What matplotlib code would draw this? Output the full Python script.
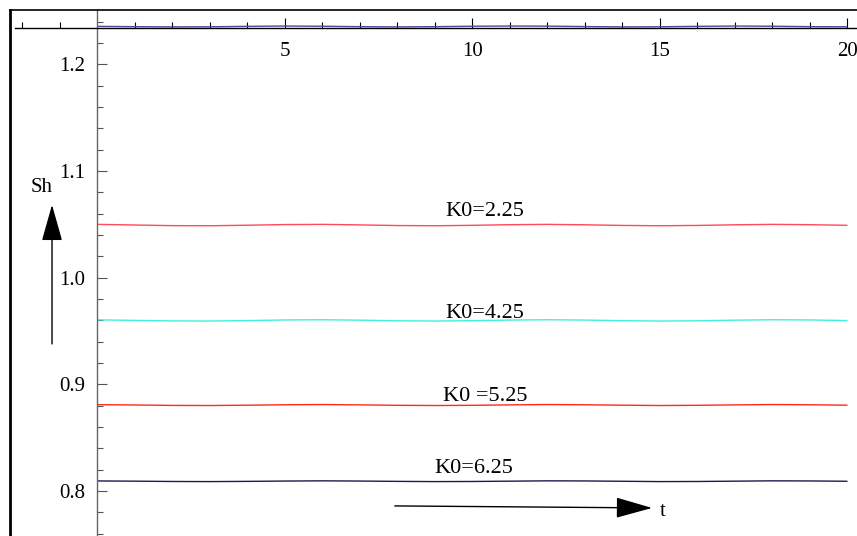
import matplotlib
matplotlib.use("Agg")
import matplotlib.pyplot as plt
from matplotlib.lines import Line2D
import numpy as np

# ---- data ----
t = [0, 1, 2, 3, 4, 5, 6, 7, 8, 9, 10, 11, 12, 13, 14, 15, 16, 17, 18, 19, 20]
sh_top = [1.2356, 1.2353, 1.2351, 1.2352, 1.2356, 1.2359, 1.2357, 1.2353, 1.2351, 1.2353,
          1.2357, 1.2359, 1.2358, 1.2354, 1.2351, 1.2352, 1.2356, 1.2359, 1.2357, 1.2353, 1.2352]
sh_225 = [1.0500, 1.0494, 1.0488, 1.0487, 1.0492, 1.0498, 1.0500, 1.0495, 1.0489, 1.0487,
          1.0491, 1.0497, 1.0500, 1.0496, 1.0490, 1.0487, 1.0490, 1.0496, 1.0500, 1.0497, 1.0491]
sh_425 = [0.9605, 0.9600, 0.9595, 0.9594, 0.9598, 0.9604, 0.9606, 0.9602, 0.9596, 0.9594,
          0.9597, 0.9603, 0.9606, 0.9603, 0.9597, 0.9594, 0.9596, 0.9602, 0.9606, 0.9604, 0.9598]
sh_525 = [0.8810, 0.8807, 0.8803, 0.8802, 0.8805, 0.8809, 0.8811, 0.8808, 0.8804, 0.8802,
          0.8804, 0.8808, 0.8811, 0.8809, 0.8805, 0.8802, 0.8804, 0.8808, 0.8811, 0.8809, 0.8805]
sh_625 = [0.8095, 0.8093, 0.8090, 0.8089, 0.8091, 0.8094, 0.8096, 0.8094, 0.8091, 0.8089,
          0.8090, 0.8093, 0.8096, 0.8095, 0.8092, 0.8089, 0.8090, 0.8093, 0.8096, 0.8095, 0.8092]

series = [sh_top, sh_225, sh_425, sh_525, sh_625]
colors = ["#4a4a9a", "#ff4a5c", "#3ff0dc", "#ff2a1a", "#1c1a4a"]

labels = ["K0=2.25", "K0=4.25", "K0 =5.25", "K0=6.25"]
label_pos = [(10.33, 1.0616), (10.33, 0.9660), (10.33, 0.8891), (10.04, 0.8216)]

x_major = [5, 10, 15, 20]
x_minor = [-2, -1, 1, 2, 3, 4, 6, 7, 8, 9, 11, 12, 13, 14, 16, 17, 18, 19]
y_major = [0.8, 0.9, 1.0, 1.1, 1.2]
y_minor = [0.76, 0.78, 0.82, 0.84, 0.86, 0.88, 0.92, 0.94, 0.96, 0.98,
           1.02, 1.04, 1.06, 1.08, 1.12, 1.14, 1.16, 1.18, 1.22, 1.24]

plt.rcParams['font.family'] = ['Liberation Serif', 'DejaVu Serif']

fig = plt.figure(figsize=(8.57, 5.36), dpi=100)
ax = fig.add_axes([0, 0, 1, 1])
ax.set_xlim(-2.597, 20.254)
ax.set_ylim(0.7579, 1.2603)
ax.patch.set_alpha(0)

for y, c in zip(series, colors):
    ax.plot(t, y, color=c, lw=1.0, solid_capstyle='butt')

for lab, (px, py) in zip(labels, label_pos):
    ax.text(px, py, lab, ha='center', va='center', fontsize=16)

# axes as spines crossing
ax.spines['right'].set_visible(False)
ax.spines['top'].set_visible(False)
ax.spines['left'].set_position(('data', 0))
ax.spines['bottom'].set_position(('data', 1.234))
ax.spines['left'].set_color('#666666')
ax.spines['left'].set_linewidth(1.0)
ax.spines['bottom'].set_color('black')
ax.spines['bottom'].set_linewidth(1.0)
ax.spines['bottom'].set_bounds(-2.2, 20.254)
ax.spines['left'].set_bounds(0.7579, 1.2510)
ax.spines['bottom'].set_zorder(3)

ax.set_xticks(x_major)
ax.set_xticklabels([str(v) for v in x_major])
ax.set_xticks(x_minor, minor=True)
ax.set_yticks(y_major)
ax.set_yticklabels(["%.1f" % v for v in y_major])
ax.set_yticks(y_minor, minor=True)
ax.tick_params(axis='x', which='major', direction='in', length=7, width=0.8,
               color='black', labelsize=15, pad=10)
ax.tick_params(axis='x', which='minor', direction='in', length=4, width=0.8, color='black')
ax.tick_params(axis='y', which='major', direction='in', length=7, width=0.8,
               color='#555555', labelsize=15, pad=9)
ax.tick_params(axis='y', which='minor', direction='in', length=4, width=0.8, color='#555555')

# annotation arrows
astyle = "-|>,head_length=2.3,head_width=0.65"
ax.annotate("", xy=(-1.21, 1.0683), xytext=(-1.21, 0.9379),
            arrowprops=dict(arrowstyle=astyle, color='black', lw=1.0, shrinkA=0, shrinkB=0))
ax.text(-1.477, 1.085, "Sh", ha='center', va='center', fontsize=15)
ax.annotate("", xy=(14.79, 0.7842), xytext=(7.93, 0.7861),
            arrowprops=dict(arrowstyle=astyle, color='black', lw=1.0, shrinkA=0, shrinkB=0))
ax.text(15.08, 0.7804, "t", ha='center', va='center', fontsize=15)

# outer frame
W, H = 857.0, 536.0
fig.add_artist(Line2D([10 / W, 10 / W], [0, 1 - 10 / H], color='black', lw=2.0,
                      transform=fig.transFigure))
fig.add_artist(Line2D([10 / W, 1], [1 - 10 / H, 1 - 10 / H], color='black', lw=1.2,
                      transform=fig.transFigure))

fig.savefig("out.png", dpi=100)
